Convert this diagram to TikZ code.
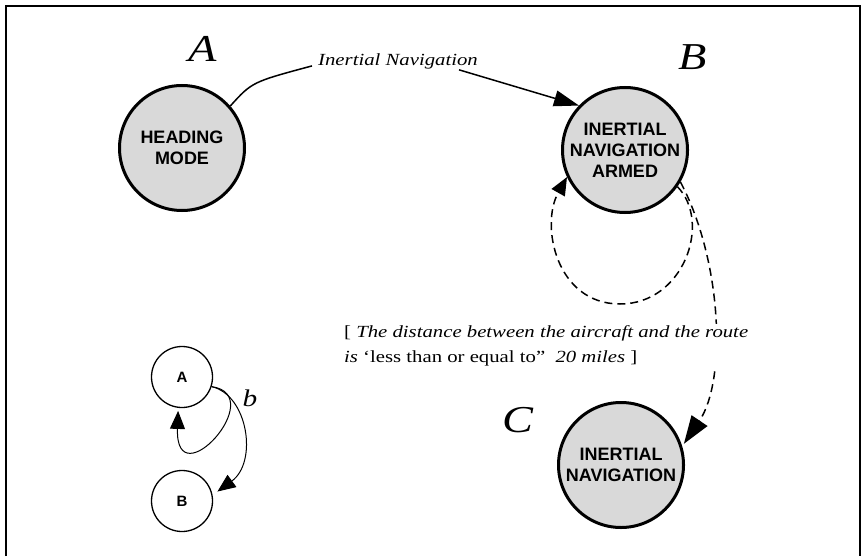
\documentclass[tikz,border=0pt]{standalone}
\usepackage{fontspec}
\setmainfont{Liberation Serif}
\newfontfamily\serw[FakeStretch=1.22]{Liberation Serif}
\newfontfamily\hv{Liberation Sans}
\usetikzlibrary{arrows.meta}
\begin{document}
\begin{tikzpicture}[x=1pt,y=-1pt,
  bigstate/.style={circle,draw,line width=3pt,fill=black!15,minimum size=125pt,inner sep=0pt,align=center,
    font=\hv\bfseries\fontsize{18}{21}\selectfont},
  smallstate/.style={circle,draw,line width=1.3pt,fill=white,minimum size=61pt,inner sep=0pt,
    font=\hv\bfseries\fontsize{15}{18}\selectfont},
  biglabel/.style={anchor=base,inner sep=0pt,font=\serw\itshape\fontsize{38}{40}\selectfont},
  edgetext/.style={inner sep=1pt,fill=white,font=\serw\itshape\fontsize{17}{20}\selectfont},
  condtext/.style={inner sep=1pt,fill=white,align=left,font=\serw\fontsize{17}{25}\selectfont},
  conn/.style={line width=1.5pt},
  dconn/.style={line width=1.5pt,dash pattern=on 8pt off 5pt},
  tipbig/.style={-{Triangle[length=28pt,width=19pt]}},
  tipmid/.style={-{Triangle[length=25pt,width=16pt]}},
  tipsmall/.style={-{Triangle[length=18pt,width=15pt]}},
]
\useasboundingbox (0,0) rectangle (866,556);
\draw[line width=2.5pt] (6,556) -- (6,6) -- (860,6) -- (860,556);

% states
\node[bigstate] (hm) at (182,148) {HEADING\\MODE};
\node[bigstate] (ina) at (625,150) {INERTIAL\\NAVIGATION\\ARMED};
\node[bigstate] (in) at (621,465) {INERTIAL\\NAVIGATION};
\node[smallstate] (sa) at (182,377) {A};
\node[smallstate] (sb) at (182,501) {B};

% state letters
\node[biglabel] (lA) at (203,62) {A};
\node[biglabel] (lB) at (693,70) {B};
\node[biglabel] (lC) at (518,432) {C};

% transition A -> B with its label
\node[edgetext,anchor=base] (tl) at (398,66) {Inertial Navigation};
\draw[conn] (hm.41) .. controls (252,82) .. ([xshift=-5pt,yshift=-4pt]tl.west);
\draw[conn,tipmid] ([xshift=-20pt,yshift=1pt]tl.south east) -- (ina.136);

% self loop on B
\draw[dconn,tipsmall] (ina.-35) .. controls (712,222) and (684,304) .. (620,304)
  .. controls (556,304) and (540,225) .. (ina.205);
% B -> C
\draw[dconn,tipbig,shorten >=3pt] (ina.-30) .. controls (722,260) and (727,380) .. (in.17);
\node[condtext,anchor=base west] (cond) at (343,362)
  {[ \textit{The distance between the aircraft and the route}\\\textit{is} ‘less than or equal to”\ \ \textit{20 miles} ]};

% small example
\draw[line width=1pt,tipsmall,shorten >=3pt] (sa.-18) .. controls (270,395) and (175,500) .. (sa.263);
\draw[line width=1pt,tipsmall,shorten >=6pt] (sa.-18) .. controls (248,395) and (258,462) .. (sb.11);
\node[anchor=base,inner sep=0pt,font=\serw\itshape\fontsize{24}{26}\selectfont] (lb) at (250,406) {b};
\end{tikzpicture}
\end{document}
